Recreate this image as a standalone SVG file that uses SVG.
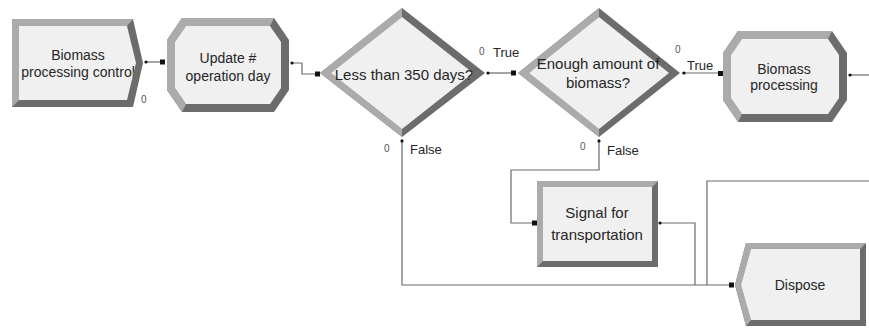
<svg xmlns="http://www.w3.org/2000/svg" width="869" height="331" viewBox="0 0 869 331">
<style>
.dk{fill:#6c6c6c}
.lt{fill:#ababab}
.in{fill:#f0f0f0}
.t{font-family:"Liberation Sans",Arial,sans-serif;font-size:14px;fill:#262626;text-anchor:middle}
.big{font-size:15px}
.lb{font-family:"Liberation Sans",Arial,sans-serif;font-size:13px;fill:#262626}
.z{font-family:"Liberation Sans",Arial,sans-serif;font-size:10px;fill:#555}
.c{fill:none;stroke:#6a6a6a;stroke-width:1.2}
.sq{fill:#111}
.dt{fill:#111}
</style>
<defs>
<clipPath id="clipCtl"><polygon points="19,26 127,26 136,63 127,100 19,100"/></clipPath>
</defs>
<rect width="869" height="331" fill="#ffffff"/>

<g id="connectors">
<polyline class="c" points="145,62 163,62"/>
<rect class="sq" x="160" y="59.5" width="5" height="5"/>
<circle class="dt" cx="146" cy="62" r="1.6"/>

<polyline class="c" points="291,63 302,63 302,74 318,74"/>
<circle class="dt" cx="292" cy="63" r="1.6"/>
<rect class="sq" x="315" y="71.5" width="5" height="5"/>

<polyline class="c" points="487,73 516,73"/>
<circle class="dt" cx="488" cy="73" r="1.6"/>
<rect class="sq" x="511" y="70.5" width="5" height="5"/>

<polyline class="c" points="682,73 721,73"/>
<circle class="dt" cx="684" cy="73" r="1.6"/>
<rect class="sq" x="718" y="71" width="5" height="5"/>

<polyline class="c" points="849,75 869,75"/>
<circle class="dt" cx="850" cy="75" r="1.6"/>

<polyline class="c" points="402,139 402,285 733,285"/>
<circle class="dt" cx="402" cy="141" r="1.6"/>
<rect class="sq" x="729" y="282.5" width="5" height="5"/>

<polyline class="c" points="599,139 599,170 511,170 511,223 535,223"/>
<circle class="dt" cx="599" cy="141" r="1.6"/>
<rect class="sq" x="532" y="220.5" width="5" height="5"/>

<polyline class="c" points="660,223 695,223 695,285"/>
<circle class="dt" cx="660" cy="223" r="1.6"/>

<polyline class="c" points="707,285 707,181 869,181"/>
</g>

<g id="node-biomass-processing-control">
<polygon class="dk" points="12,19 133,19 143,63 133,107 12,107"/>
<polygon class="lt" points="12,107 12,19 133,19 127,26 19,26 19,100"/>
<polygon class="in" points="19,26 127,26 136,63 127,100 19,100"/>
<g clip-path="url(#clipCtl)">
<text class="t" x="78" y="60">Biomass</text>
<text class="t" x="78" y="77">processing control</text>
</g>
<text class="z" x="141" y="103">0</text>
</g>

<g id="node-update">
<polygon class="dk" points="182,18 274,18 289,40 289,90 274,112 182,112 167,90 167,40"/>
<polygon class="lt" points="182,112 167,90 167,40 182,18 274,18 270,26 186,26 175,42 175,88 186,104"/>
<polygon class="in" points="186,26 270,26 281,42 281,88 270,104 186,104 175,88 175,42"/>
<text class="t" x="228" y="63">Update #</text>
<text class="t" x="228" y="81">operation day</text>
</g>

<g id="node-less-than-350">
<polygon class="dk" points="402,8 485,73 402,137 320,73"/>
<polygon class="lt" points="402,8 320,73 402,137 402,129 331,73 402,17"/>
<polygon class="in" points="402,17 473,73 402,129 331,73"/>
<text class="t big" x="404" y="80">Less than 350 days?</text>
<text class="z" x="479" y="55">0</text>
<text class="lb" x="493" y="57">True</text>
<text class="z" x="384" y="152">0</text>
<text class="lb" x="410" y="154">False</text>
</g>

<g id="node-enough-biomass">
<polygon class="dk" points="599,8 680,73 599,137 518,73"/>
<polygon class="lt" points="599,8 518,73 599,137 599,129 529,73 599,17"/>
<polygon class="in" points="599,17 669,73 599,129 529,73"/>
<text class="t big" x="598" y="69">Enough amount of</text>
<text class="t big" x="598" y="88">biomass?</text>
<text class="z" x="675" y="53">0</text>
<text class="lb" x="687" y="70">True</text>
<text class="z" x="580" y="150">0</text>
<text class="lb" x="607" y="155">False</text>
</g>

<g id="node-biomass-processing">
<polygon class="dk" points="738,31 832,31 847,53 847,100 832,122 738,122 723,100 723,53"/>
<polygon class="lt" points="738,122 723,100 723,53 738,31 832,31 828,39 742,39 731,55 731,98 742,114"/>
<polygon class="in" points="742,39 828,39 839,55 839,98 828,114 742,114 731,98 731,55"/>
<text class="t" x="784" y="74">Biomass</text>
<text class="t" x="784" y="90">processing</text>
</g>

<g id="node-signal">
<rect class="dk" x="537" y="181" width="121" height="86"/>
<polygon class="lt" points="537,267 537,181 658,181 652,187 543,187 543,261"/>
<rect class="in" x="543" y="187" width="109" height="74"/>
<text class="t big" x="597" y="218">Signal for</text>
<text class="t big" x="597" y="240">transportation</text>
</g>

<g id="node-dispose">
<polygon class="dk" points="746,243 866,243 866,326 746,326 735,285"/>
<polygon class="lt" points="746,326 735,285 746,243 866,243 860,249 751,249 741,285 751,320"/>
<polygon class="in" points="751,249 860,249 860,320 751,320 741,285"/>
<text class="t" x="800" y="290">Dispose</text>
</g>
</svg>
